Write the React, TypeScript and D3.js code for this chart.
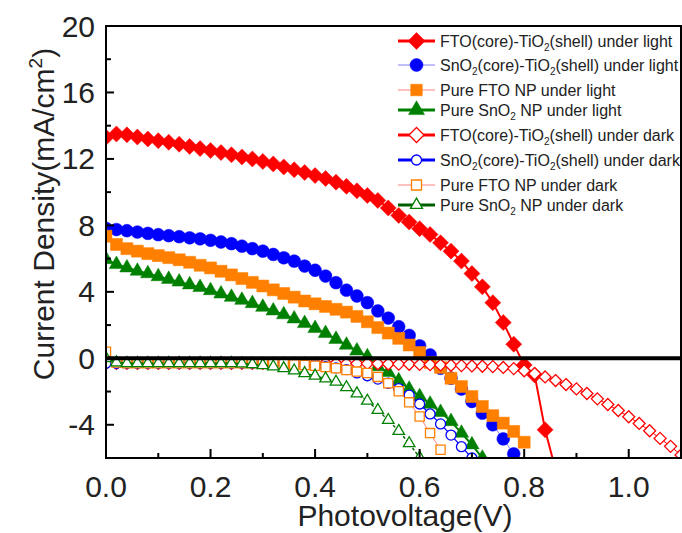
import React from 'react';
import * as d3 from 'd3';

const voltage = [0, 0.02, 0.04, 0.06, 0.08, 0.1, 0.12, 0.14, 0.16, 0.18, 0.2, 0.22, 0.24, 0.26, 0.28, 0.3, 0.32, 0.34, 0.36, 0.38, 0.4, 0.42, 0.44, 0.46, 0.48, 0.5, 0.52, 0.54, 0.56, 0.58, 0.6, 0.62, 0.64, 0.66, 0.68, 0.7, 0.72, 0.74, 0.76, 0.78, 0.8, 0.82, 0.84, 0.86, 0.88, 0.9, 0.92, 0.94, 0.96, 0.98, 1.0, 1.02, 1.04, 1.06, 1.08, 1.1];

const ftoCoreLight = [13.3, 13.5, 13.45, 13.32, 13.2, 13.1, 13.0, 12.88, 12.75, 12.62, 12.5, 12.38, 12.25, 12.12, 12.0, 11.85, 11.7, 11.52, 11.35, 11.18, 11.0, 10.82, 10.6, 10.35, 10.08, 9.8, 9.5, 9.05, 8.6, 8.2, 7.8, 7.45, 6.95, 6.45, 5.85, 5.1, 4.3, 3.35, 2.15, 0.85, -0.4, -1.0, -4.3, -6.7];
const snoCoreLight = [7.82, 7.75, 7.68, 7.6, 7.52, 7.44, 7.38, 7.32, 7.25, 7.19, 7.1, 7.0, 6.9, 6.75, 6.6, 6.45, 6.25, 6.05, 5.85, 5.55, 5.3, 4.95, 4.55, 4.1, 3.75, 3.35, 2.85, 2.42, 1.9, 1.38, 0.75, 0.2, -0.6, -1.2, -1.85, -2.6, -3.3, -4.0, -4.85, -5.75, -6.6];
const ftoPureLight = [7.35, 6.85, 6.6, 6.45, 6.3, 6.18, 6.06, 5.93, 5.78, 5.6, 5.44, 5.24, 5.02, 4.8, 4.57, 4.35, 4.12, 3.9, 3.68, 3.45, 3.28, 3.12, 2.95, 2.78, 2.52, 2.2, 1.85, 1.52, 1.2, 0.8, 0.35, -0.25, -0.55, -1.2, -1.7, -2.3, -2.9, -3.45, -3.9, -4.4, -5.05];
const snoPureLight = [5.95, 5.65, 5.45, 5.25, 5.1, 4.92, 4.76, 4.6, 4.43, 4.27, 4.08, 3.88, 3.68, 3.5, 3.3, 3.08, 2.86, 2.63, 2.38, 2.1, 1.8, 1.5, 1.15, 0.8, 0.45, 0.1, -0.5, -0.85, -1.35, -1.85, -2.3, -2.75, -3.25, -3.8, -4.5, -5.2, -6.0];
const ftoCoreDark = [-0.28, -0.3, -0.3, -0.3, -0.3, -0.3, -0.3, -0.3, -0.3, -0.3, -0.3, -0.3, -0.3, -0.3, -0.3, -0.3, -0.3, -0.3, -0.3, -0.3, -0.3, -0.3, -0.3, -0.32, -0.32, -0.32, -0.33, -0.34, -0.35, -0.36, -0.37, -0.38, -0.4, -0.42, -0.44, -0.46, -0.48, -0.5, -0.55, -0.62, -0.75, -0.92, -1.12, -1.34, -1.58, -1.84, -2.12, -2.44, -2.78, -3.14, -3.52, -3.92, -4.36, -4.82, -5.3, -5.82];
const snoCoreDark = [-0.3, -0.3, -0.3, -0.3, -0.3, -0.3, -0.3, -0.3, -0.3, -0.3, -0.3, -0.3, -0.3, -0.3, -0.3, -0.3, -0.32, -0.34, -0.37, -0.4, -0.45, -0.5, -0.57, -0.68, -0.88, -1.05, -1.25, -1.5, -1.82, -2.22, -2.75, -3.35, -3.95, -4.62, -5.32, -6.0];
const ftoPureDark = [0.4, -0.25, -0.3, -0.3, -0.3, -0.3, -0.3, -0.3, -0.3, -0.3, -0.3, -0.3, -0.3, -0.3, -0.3, -0.3, -0.32, -0.34, -0.37, -0.4, -0.45, -0.52, -0.6, -0.7, -0.8, -0.88, -1.12, -1.5, -1.98, -2.65, -3.5, -4.5, -5.5];
const snoPureDark = [0.0, -0.25, -0.3, -0.3, -0.3, -0.3, -0.3, -0.3, -0.3, -0.3, -0.3, -0.3, -0.3, -0.32, -0.36, -0.42, -0.5, -0.6, -0.74, -0.9, -1.05, -1.22, -1.42, -1.75, -2.12, -2.56, -3.12, -3.72, -4.38, -5.12, -5.98];

const xTicks = [0, 0.2, 0.4, 0.6, 0.8, 1.0];
const xMinorTicks = [0.1, 0.3, 0.5, 0.7, 0.9];
const xTickLabels = ['0.0', '0.2', '0.4', '0.6', '0.8', '1.0'];
const yTicks = [-4, 0, 4, 8, 12, 16, 20];
const yMinorTicks = [-2, 2, 6, 10, 14, 18];

type Shape = 'diamond' | 'circle' | 'square' | 'triangle';

const RED = '#FF0000';
const BLUE = '#0000FF';
const ORANGE = '#FF8000';
const GREEN = '#008000';

const series = [
  { label: ['FTO(core)-TiO', '2', '(shell) under light'], prefix: '', data: ftoCoreLight, color: RED, filled: true, shape: 'diamond' as Shape, size: 8, legendSize: 8.5, lineColor: RED, lineWidth: 2, legendLineWidth: 3, dash: '' },
  { label: ['(core)-TiO', '2', '(shell) under light'], prefix: 'SnO2', data: snoCoreLight, color: BLUE, filled: true, shape: 'circle' as Shape, size: 6.4, legendSize: 6.5, lineColor: '#8080FF', lineWidth: 1, legendLineWidth: 1, dash: '' },
  { label: ['Pure FTO NP under light'], prefix: '', data: ftoPureLight, color: ORANGE, filled: true, shape: 'square' as Shape, size: 6, legendSize: 5.8, lineColor: '#FF8080', lineWidth: 1, legendLineWidth: 1, dash: '' },
  { label: ['Pure SnO', '2', ' NP under light'], prefix: '', data: snoPureLight, color: GREEN, filled: true, shape: 'triangle' as Shape, size: 14.5, legendSize: 16, lineColor: GREEN, lineWidth: 2, legendLineWidth: 3, dash: '' },
  { label: ['FTO(core)-TiO', '2', '(shell) under dark'], prefix: '', data: ftoCoreDark, color: RED, filled: false, shape: 'diamond' as Shape, size: 6, legendSize: 7.5, lineColor: RED, lineWidth: 1, legendLineWidth: 3, dash: '' },
  { label: ['(core)-TiO', '2', '(shell) under dark'], prefix: 'SnO2', data: snoCoreDark, color: BLUE, filled: false, shape: 'circle' as Shape, size: 5, legendSize: 5, lineColor: BLUE, lineWidth: 1.2, legendLineWidth: 3, dash: '' },
  { label: ['Pure FTO NP under dark'], prefix: '', data: ftoPureDark, color: ORANGE, filled: false, shape: 'square' as Shape, size: 4.6, legendSize: 5, lineColor: '#FF8080', lineWidth: 1, legendLineWidth: 1, dash: '' },
  { label: ['Pure SnO', '2', ' NP under dark'], prefix: '', data: snoPureDark, color: GREEN, filled: false, shape: 'triangle' as Shape, size: 11.5, legendSize: 12, lineColor: '#006000', lineWidth: 1.4, legendLineWidth: 3, dash: '3,2' },
];

const legendRowsY = [41, 65, 90, 110, 135, 160, 185, 205];

const W = 682;
const H = 533;
const FONT = "'Liberation Sans', Arial, Helvetica, sans-serif";

const x = d3.scaleLinear().domain([0, 1.1]).range([106, 681]);
const y = d3.scaleLinear().domain([-6, 20]).range([458, 26]);

function markerPath(shape: Shape, s: number): string {
  if (shape === 'diamond') return `M0,${-s}L${s},0L0,${s}L${-s},0Z`;
  if (shape === 'square') return `M${-s},${-s}H${s}V${s}H${-s}Z`;
  if (shape === 'triangle') {
    const h = (s * Math.sqrt(3)) / 2;
    return `M0,${(-2 * h) / 3}L${s / 2},${h / 3}L${-s / 2},${h / 3}Z`;
  }
  return '';
}

function Marker({ shape, s, cx, cy, color, filled }: { shape: Shape; s: number; cx: number; cy: number; color: string; filled: boolean }) {
  const fill = filled ? color : '#FFFFFF';
  const sw = filled ? 0.5 : 1.3;
  if (shape === 'circle') {
    return <circle cx={cx} cy={cy} r={s} fill={fill} stroke={color} strokeWidth={sw} />;
  }
  return <path transform={`translate(${cx},${cy})`} d={markerPath(shape, s)} fill={fill} stroke={color} strokeWidth={sw} strokeLinejoin="miter" />;
}

export default function App() {
  const line = d3
    .line<[number, number]>()
    .x((d) => x(d[0]))
    .y((d) => y(d[1]));

  const x0 = x.range()[0];
  const x1 = x.range()[1];
  const yTop = y.range()[1];
  const yBot = y.range()[0];

  return (
    <div style={{ position: 'absolute', left: 0, top: 0 }}>
      <svg width={W} height={H} viewBox={`0 0 ${W} ${H}`} style={{ display: 'block', background: '#fff' }} fontFamily={FONT}>
        <defs>
          <clipPath id="plotClip">
            <rect x={x0} y={yTop} width={x1 - x0} height={yBot - yTop} />
          </clipPath>
        </defs>
        <rect x={0} y={0} width={W} height={H} fill="#fff" />

        <g clipPath="url(#plotClip)">
          {series.map((s, i) => {
            const pts: [number, number][] = s.data.map((v, k) => [voltage[k], v]);
            return (
              <g key={i}>
                <path d={line(pts) || ''} fill="none" stroke={s.lineColor} strokeWidth={s.lineWidth} strokeDasharray={s.dash || undefined} />
                {pts.map((p, k) => (
                  <Marker key={k} shape={s.shape} s={s.size} cx={x(p[0])} cy={y(p[1])} color={s.color} filled={s.filled} />
                ))}
              </g>
            );
          })}
          {/* zero reference line */}
          <line x1={x0} x2={x1} y1={y(0)} y2={y(0)} stroke="#000" strokeWidth={4} />
        </g>

        {/* frame */}
        <rect x={x0} y={yTop} width={x1 - x0} height={yBot - yTop} fill="none" stroke="#000" strokeWidth={2} />

        {/* x ticks */}
        {xTicks.map((t, i) => (
          <g key={'xt' + i}>
            <line x1={x(t)} x2={x(t)} y1={yBot} y2={yBot - 9} stroke="#000" strokeWidth={2} />
            <text x={x(t)} y={497} textAnchor="middle" fontSize={30} fill="#222">
              {xTickLabels[i]}
            </text>
          </g>
        ))}
        {xMinorTicks.map((t, i) => (
          <line key={'xm' + i} x1={x(t)} x2={x(t)} y1={yBot} y2={yBot - 5} stroke="#000" strokeWidth={2} />
        ))}

        {/* y ticks */}
        {yTicks.map((t, i) => (
          <g key={'yt' + i}>
            <line x1={x0} x2={x0 + 8} y1={y(t)} y2={y(t)} stroke="#000" strokeWidth={2} />
            <text x={95} y={y(t) + 10.5} textAnchor="end" fontSize={30} fill="#222">
              {String(t)}
            </text>
          </g>
        ))}
        {yMinorTicks.map((t, i) => (
          <line key={'ym' + i} x1={x0} x2={x0 + 5} y1={y(t)} y2={y(t)} stroke="#000" strokeWidth={2} />
        ))}

        {/* axis titles */}
        <text x={405} y={526} textAnchor="middle" fontSize={30} fill="#222">
          Photovoltage(V)
        </text>
        <text transform="translate(54,214) rotate(-90)" textAnchor="middle" fontSize={30} fill="#222">
          Current Density(mA/cm
          <tspan dy={-12} fontSize={19}>
            2
          </tspan>
          <tspan dy={12}>)</tspan>
        </text>

        {/* legend */}
        {series.map((s, i) => {
          const ly = legendRowsY[i];
          return (
            <g key={'lg' + i}>
              <line x1={398} x2={435} y1={ly} y2={ly} stroke={s.lineColor} strokeWidth={s.legendLineWidth} />
              <Marker shape={s.shape} s={s.legendSize} cx={416.5} cy={ly} color={s.color} filled={s.filled} />
              <text x={440} y={ly + 5.5} fontSize={16} fill="#222">
                {s.prefix ? (
                  <>
                    SnO
                    <tspan dy={4} fontSize={10}>
                      2
                    </tspan>
                    <tspan dy={-4}>{s.label[0]}</tspan>
                  </>
                ) : (
                  s.label[0]
                )}
                {s.label.length > 1 ? (
                  <>
                    <tspan dy={4} fontSize={10}>
                      {s.label[1]}
                    </tspan>
                    <tspan dy={-4}>{s.label[2]}</tspan>
                  </>
                ) : null}
              </text>
            </g>
          );
        })}
      </svg>
    </div>
  );
}
